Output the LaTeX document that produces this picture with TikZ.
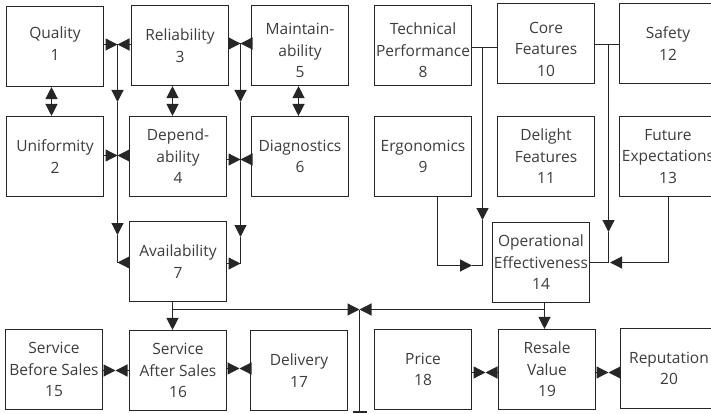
\documentclass[tikz,border=0pt]{standalone}
\usepackage{fontspec}
\setmainfont{Open Sans}
\usetikzlibrary{arrows.meta}
\definecolor{ink}{HTML}{262626}
\definecolor{txt}{HTML}{3C3C3C}
\begin{document}
\begin{tikzpicture}[x=1pt,y=-1pt,
  lbl/.style={inner sep=0pt, align=center, text=txt, font=\fontsize{15.5}{21.5}\selectfont},
  box/.style={lbl, draw=ink, line width=1.1pt, minimum width=97pt, minimum height=80pt},
  wire/.style={draw=ink, line width=1.2pt},
  tip/.style={wire, -{Triangle[length=12pt,width=12pt]}},
  tips/.style={wire, {Triangle[length=12pt,width=12pt]}-{Triangle[length=12pt,width=12pt]}},
]
\useasboundingbox (0,0) rectangle (711,414);
\clip (0,0) rectangle (711,414);

% top row (the three-line texts here sit a little low in their boxes)
\node[box] (q)   at (55,46.5)   {};
\node[lbl] (q-t) at ([yshift=3pt]q.center) {Quality\\1};
\node[box] (rel) at (180,45.5)  {Reliability\\3};
\node[box] (mnt) at (300,45.5)  {};
\node[lbl] (mnt-t) at ([yshift=-5pt]mnt.center) {Maintain-\\ability\\5};
\node[box] (tec) at (423,45.5)  {};
\node[lbl] (tec-t) at ([yshift=-5pt]tec.center) {Technical\\Performance\\8};
\node[box] (cor) at (546,43.5)  {};
\node[lbl] (cor-t) at ([yshift=-5.5pt]cor.center) {Core\\Features\\10};
\node[box] (saf) at (668,43.5)  {Safety\\12};
% second row
\node[box] (uni) at (55,156.5)  {Uniformity\\2};
\node[box] (dep) at (178,156.5) {Depend-\\ability\\4};
\node[box] (dia) at (300,156.5) {Diagnostics\\6};
\node[box] (erg) at (423,156.5) {Ergonomics\\9};
\node[box] (dlt) at (546,156.5) {Delight\\Features\\11};
\node[box] (fut) at (668,156.5) {Future\\Expectations\\13};
% third row
\node[box] (ava) at (178,261.5) {Availability\\7};
\node[box] (ope) at (541,262.5) {Operational\\Effectiveness\\14};
% bottom row
\node[box] (sbs) at (54,369.5)  {Service\\Before Sales\\15};
\node[box] (sas) at (178,370.5) {Service\\After Sales\\16};
\node[box] (dlv) at (299,370.5) {Delivery\\17};
\node[box] (pri) at (423,369.5) {Price\\18};
\node[box] (res) at (547,369.5) {Resale\\Value\\19};
\node[box] (rep) at (669,368.5) {Reputation\\20};

% vertical double arrows between the first two rows
\coordinate (xq) at (51.5,0);
\coordinate (xr) at (172.5,0);
\coordinate (xm) at (298.5,0);
\draw[tips] (xq |- q.south)   -- (xq |- uni.north);
\draw[tips] (xr |- rel.south) -- (xr |- dep.north);
\draw[tips] (xm |- mnt.south) -- (xm |- dia.north);

% left bus
\coordinate (jA) at (117.5,44.5);
\coordinate (mA) at (117.5,102);
\coordinate (jB) at (117.5,155.5);
\coordinate (mB) at (117.5,235);
\coordinate (eA) at (117.5,262.5);
\draw[tip] (q.east |- jA) -- (jA);
\draw[tip] (rel.west |- jA) -- (jA);
\draw[tip] (jA) -- (mA);
\draw[tip] (mA) -- (mB);
\draw[wire] (mB) -- (eA);
\draw[tip] (uni.east |- jB) -- (jB);
\draw[tip] (dep.west |- jB) -- (jB);
\draw[tip] (ava.west |- eA) -- (eA);

% right bus
\coordinate (jC) at (240.5,43.5);
\coordinate (mC) at (240.5,102);
\coordinate (jD) at (240.5,159.5);
\coordinate (mD) at (240.5,237);
\coordinate (eC) at (240.5,263.5);
\draw[tip] (rel.east |- jC) -- (jC);
\draw[tip] (mnt.west |- jC) -- (jC);
\draw[tip] (jC) -- (mC);
\draw[tip] (mC) -- (mD);
\draw[wire] (mD) -- (eC);
\draw[tip] (dep.east |- jD) -- (jD);
\draw[tip] (dia.west |- jD) -- (jD);
\draw[tip] (ava.east |- eC) -- (eC);

% feeds into operational effectiveness (left side)
\coordinate (jE) at (482.5,47.5);
\coordinate (mE) at (482.5,220);
\coordinate (eE) at (482.5,265.5);
\coordinate (gE) at (437.5,265.5);
\coordinate (aE) at (472,265.5);
\draw[wire] (tec.east |- jE) -- (cor.west |- jE);
\draw[tip] (jE) -- (mE);
\draw[wire] (mE) -- (eE);
\draw[tip] (gE |- erg.south) -- (gE) -- (aE);
\draw[wire] (aE) -- (eE);

% feeds into operational effectiveness (right side)
\coordinate (jF) at (608.5,44.5);
\coordinate (mF) at (608.5,232);
\coordinate (eF) at (608.5,262.5);
\coordinate (gF) at (668.5,262.5);
\coordinate (aF) at (610,262.5);
\draw[wire] (cor.east |- jF) -- (saf.west |- jF);
\draw[tip] (jF) -- (mF);
\draw[wire] (mF) -- (eF);
\draw[tip] (gF |- fut.south) -- (gF) -- (aF);
\draw[wire] (ope.east |- eF) -- (eF);

% lower distribution lines
\coordinate (jG) at (172.5,309.5);
\coordinate (jH) at (544.5,309.5);
\coordinate (stem) at (359.5,309.5);
\coordinate (foot) at (359.5,412.5);
\draw[tip] (jG |- ava.south) -- (jG |- sas.north);
\draw[tip] (jG) -- (stem);
\draw[tip] (jH |- ope.south) -- (jH |- res.north);
\draw[tip] (jH) -- (stem);
\draw[wire, -{Bar[width=14pt]}] (stem) -- (foot);

% bottom row links
\coordinate (kA) at (115.5,370.5);
\coordinate (kB) at (239.5,368.5);
\coordinate (kC) at (485.5,372.5);
\coordinate (kD) at (608.5,372.5);
\draw[tip] (sbs.east |- kA) -- (kA);
\draw[tip] (sas.west |- kA) -- (kA);
\draw[tip] (sas.east |- kB) -- (kB);
\draw[tip] (dlv.west |- kB) -- (kB);
\draw[tip] (pri.east |- kC) -- (kC);
\draw[tip] (res.west |- kC) -- (kC);
\draw[tip] (res.east |- kD) -- (kD);
\draw[tip] (rep.west |- kD) -- (kD);
\end{tikzpicture}
\end{document}
